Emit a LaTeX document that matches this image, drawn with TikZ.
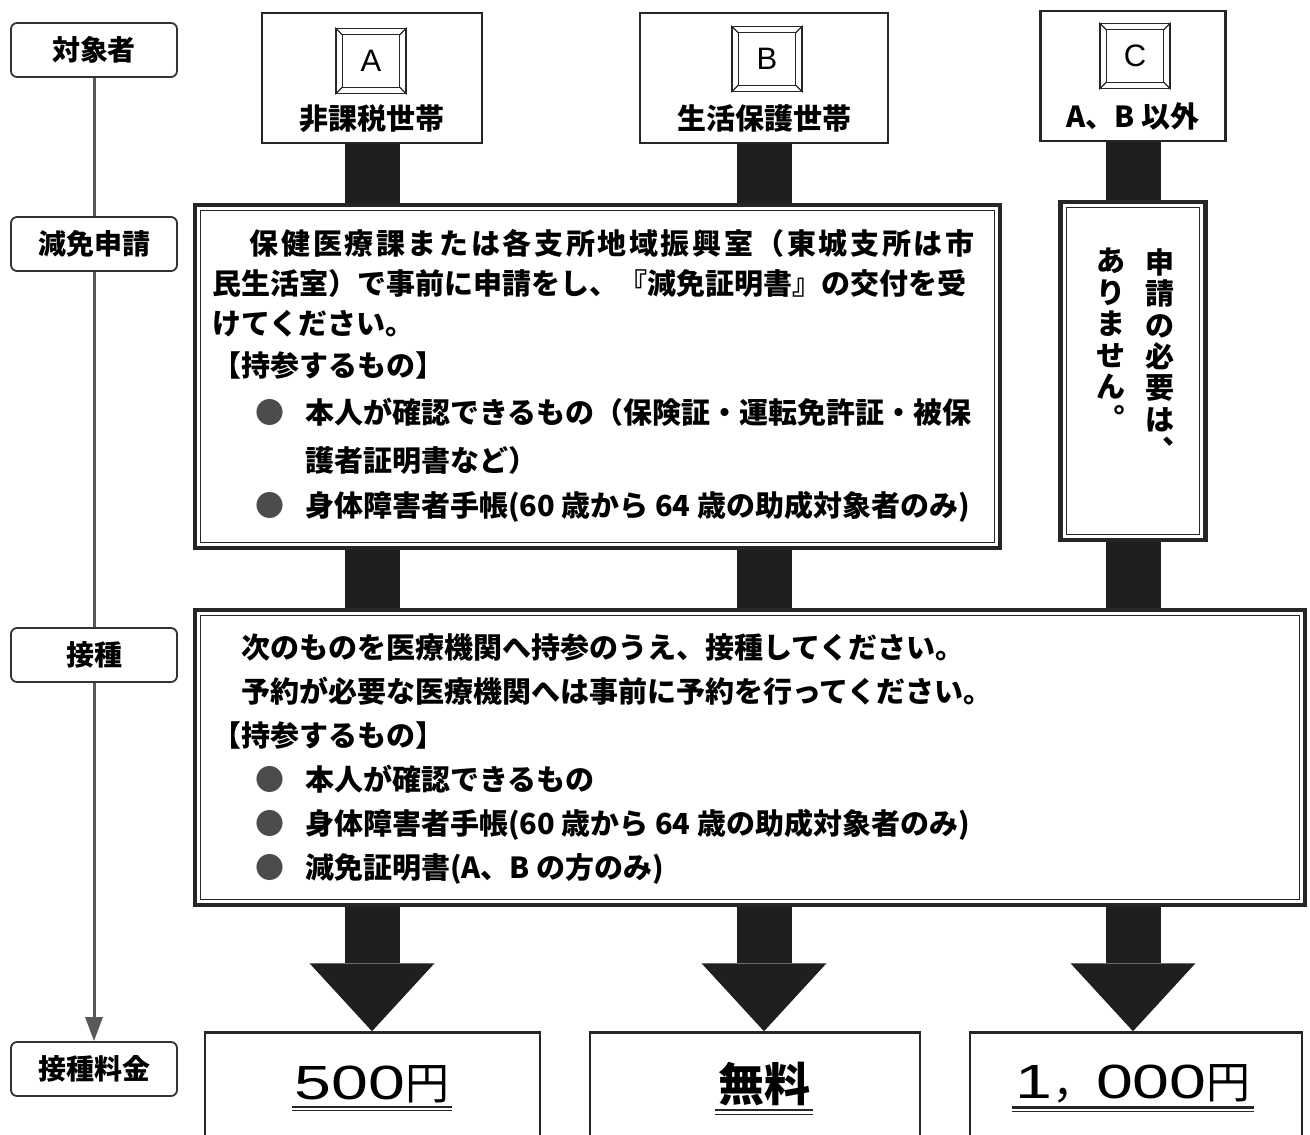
\documentclass[tikz,border=0pt]{standalone}
\usepackage{fontspec}
\usepackage{graphicx}
\setmainfont{Noto Sans CJK JP}
\newfontfamily\latinfont{Liberation Sans}
\usetikzlibrary{calc, arrows.meta}
\newcommand{\keycap}[3]{
\node[keyouter] (#1) at #2 {};
\draw[keyedge] ($(#1.north west)+(7,7)$) rectangle ($(#1.south east)+(-7,-7)$);
\draw[keyedge] (#1.north west) -- +(7,7) (#1.north east) -- +(-7,7) (#1.south west) -- +(7,-7) (#1.south east) -- +(-7,-7);
\node[keyletter] (#1l) at (#1) {#3};
}
\newcommand{\innerframe}[1]{
\draw[inframe] ($(#1.north west)+(8,8)$) rectangle ($(#1.south east)+(-8,-8)$);
}
\newcommand{\dblunder}[1]{
\draw[uline] (#1.south west) -- (#1.south east);
\draw[uline, line width=1pt] ($(#1.south west)+(0,4)$) -- ($(#1.south east)+(0,4)$);
}
\newcommand{\itemdot}{\hspace*{1.5em}\textcolor{black!70}{●}\hspace*{0.7em}}
\newcommand{\feedigits}[1]{{\fontsize{48}{50}\latinfont\scalebox{1.38}[1]{#1}}}

\begin{document}
\begin{tikzpicture}[x=1pt, y=-1pt,
% stage labels and the time line
stage/.style={draw=black!80, line width=1.8pt, rounded corners=6pt, fill=white, minimum width=166pt, minimum height=54pt, inner sep=0, font=\fontsize{28}{30}\selectfont\bfseries},
timeline/.style={draw=black!65, line width=3pt},
% target households
targetbox/.style={draw=black!85, line width=2.5pt, fill=white, minimum height=130pt, inner sep=0},
targetlbl/.style={inner sep=0, font=\fontsize{29}{31}\selectfont\bfseries},
keyouter/.style={draw=black!85, line width=1.6pt, minimum width=70pt, minimum height=65pt, inner sep=0},
keyedge/.style={black!85, line width=1.1pt},
keyletter/.style={inner sep=0, font=\fontsize{31}{33}\latinfont},
% procedure boxes
procbox/.style={draw=black!85, line width=4.5pt, fill=white, inner sep=0},
inframe/.style={black!85, line width=1.3pt},
proctext/.style={anchor=north west, align=left, inner sep=0, font=\fontsize{29}{40}\selectfont\bfseries},
vcol/.style={anchor=north, align=center, inner sep=0, font=\fontsize{29}{31.5}\selectfont\bfseries},
% thick connectors
shaft/.style={draw=black!88, line width=55pt},
bigarrow/.style={shaft, -{Triangle[length=68pt, width=125pt, line width=0pt]}},
% fees
feebox/.style={draw=black!85, line width=2.5pt, fill=white, minimum height=113pt, inner sep=0},
feetext/.style={inner xsep=3pt, inner ysep=4pt, font=\fontsize{44}{46}\selectfont},
uline/.style={black!85, line width=2.5pt}
]

\useasboundingbox (0,0) rectangle (1310,1135);

% STAGES ON THE LEFT
\path
(94,50) node[stage] (s1) {対象者}
(94,244) node[stage] (s2) {減免申請}
(94,655) node[stage] (s3) {接種}
(94,1069) node[stage] (s4) {接種料金}
;
\draw[timeline] (s1) -- (s2) (s2) -- (s3);
\draw[timeline, -{Triangle[length=24pt, width=17pt]}] (s3) -- (s4);

% TARGET HOUSEHOLDS
\node[targetbox, minimum width=220pt] (tA) at (372,78) {};
\node[targetbox, minimum width=248pt] (tB) at (764,78) {};
\node[targetbox, minimum width=185pt] (tC) at (1133,76) {};
\keycap{kA}{(371,61)}{A}
\keycap{kB}{(767,59)}{B}
\keycap{kC}{(1135,56)}{C}
\path
(tA.south) +(0,-26) node[targetlbl] (lA) {非課税世帯}
(tB.south) +(0,-26) node[targetlbl] (lB) {生活保護世帯}
(tC.south) +(0,-26) node[targetlbl] (lC) {A、B 以外}
;

% PROCEDURE BOXES
\node[procbox, minimum width=805pt, minimum height=343pt] (m1) at (597.5,376.5) {};
\innerframe{m1}
\node[procbox, minimum width=145pt, minimum height=338pt] (mC) at (1133,371) {};
\innerframe{mC}
\node[procbox, minimum width=1110pt, minimum height=295pt] (m2) at (750,757.5) {};
\innerframe{m2}

\node[proctext] (m1txt) at (212,229) {\hspace*{1.3em}{\addfontfeature{LetterSpace=9}保健医療課または各支所地域振興室（東城支所は市}\\
民生活室）で事前に申請をし、『減免証明書』の交付を受\\
けてください。\\[2pt]
【持参するもの】\\[7pt]
\itemdot 本人が確認できるもの（保険証・運転免許証・被保\\[8pt]
\hspace*{3.2em}護者証明書など）\\[5pt]
\itemdot 身体障害者手帳(60 歳から 64 歳の助成対象者のみ)};

\node[vcol] (vR) at (1160,248) {申\\請\\の\\必\\要\\は\\︑};
\node[vcol] (vL) at (1111,248) {あ\\り\\ま\\せ\\ん\\︒};

\node[proctext, font=\fontsize{29}{44}\selectfont\bfseries] (m2txt) at (212,633) {\hspace*{1em}次のものを医療機関へ持参のうえ、接種してください。\\
\hspace*{1em}予約が必要な医療機関へは事前に予約を行ってください。\\
【持参するもの】\\
\itemdot 本人が確認できるもの\\
\itemdot 身体障害者手帳(60 歳から 64 歳の助成対象者のみ)\\
\itemdot 減免証明書(A、B の方のみ)};

% CONNECTORS
\draw[shaft] (tA.south) -- (tA.south |- m1.north);
\draw[shaft] (tB.south) -- (tB.south |- m1.north);
\draw[shaft] (tC.south) -- (mC.north);
\draw[shaft] (tA |- m1.south) -- (tA |- m2.north);
\draw[shaft] (tB |- m1.south) -- (tB |- m2.north);
\draw[shaft] (mC.south) -- (mC.south |- m2.north);

% FEES
\node[feebox, minimum width=335pt] (pA) at (372.5,1089) {};
\node[feebox, minimum width=330pt] (pB) at (755,1089) {};
\node[feebox, minimum width=332pt] (pC) at (1136,1089) {};
\draw[bigarrow] (tA |- m2.south) -- (tA |- pA.north);
\draw[bigarrow] (tB |- m2.south) -- (tB |- pB.north);
\draw[bigarrow] (mC.south |- m2.south) -- (mC.south |- pC.north);

\node[feetext] (fA) at (372,1084) {\feedigits{500}円};
\node[feetext, font=\fontsize{46}{48}\selectfont\bfseries] (fB) at (764,1084) {無料};
\node[feetext] (fC) at (1133,1084) {\feedigits{1}，\feedigits{000}円};
\dblunder{fA}
\dblunder{fB}
\dblunder{fC}

\end{tikzpicture}
\end{document}
